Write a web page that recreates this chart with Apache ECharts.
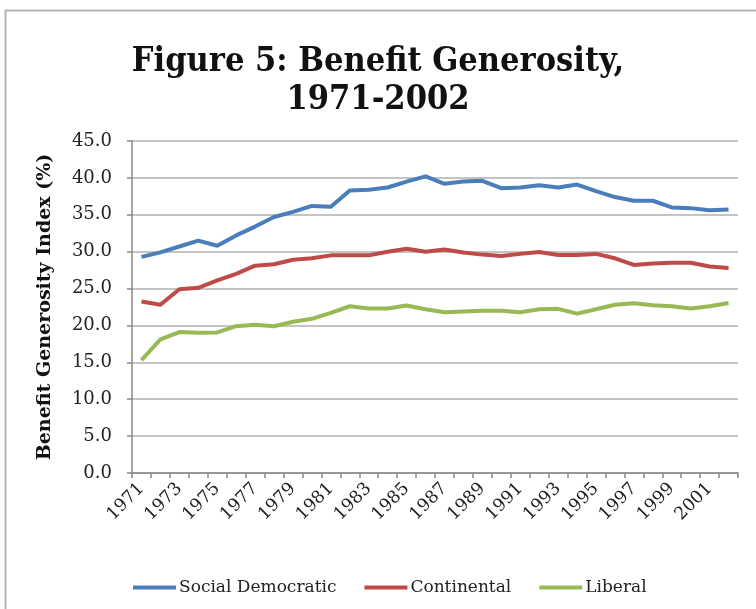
<!DOCTYPE html>
<html>
<head>
<meta charset="utf-8">
<script src="https://cdn.jsdelivr.net/npm/echarts@6/dist/echarts.min.js"></script>
<style>html,body{margin:0;padding:0;background:#fff}#c{width:756px;height:609px}</style>
</head>
<body>
<div id="c"></div>
<script>
const years = ['1971','1972','1973','1974','1975','1976','1977','1978','1979','1980','1981','1982','1983','1984','1985','1986','1987','1988','1989','1990','1991','1992','1993','1994','1995','1996','1997','1998','1999','2000','2001','2002'];
const socialDemocratic = [29.3,29.9,30.7,31.5,30.8,32.2,33.4,34.7,35.4,36.2,36.1,38.3,38.4,38.7,39.5,40.2,39.2,39.5,39.6,38.6,38.7,39.0,38.7,39.1,38.2,37.4,36.9,36.9,36.0,35.9,35.6,35.7];
const continental = [23.25,22.8,24.9,25.1,26.1,27.0,28.1,28.3,28.9,29.1,29.5,29.5,29.5,30.0,30.4,30.0,30.3,29.9,29.6,29.4,29.7,29.95,29.55,29.55,29.7,29.1,28.2,28.4,28.5,28.5,28.0,27.8];
const liberal = [15.3,18.1,19.1,19.0,19.05,19.9,20.1,19.9,20.5,20.9,21.7,22.6,22.3,22.3,22.7,22.2,21.8,21.9,22.0,22.0,21.8,22.2,22.25,21.6,22.2,22.8,23.0,22.75,22.6,22.3,22.6,23.05];
const seriesNames = ['Social Democratic','Continental','Liberal'];
const colors = ['#4A7EBB','#BE4B48','#98B954'];
const yTicks = {min: 0, max: 45, interval: 5};

const chart = echarts.init(document.getElementById('c'), null, {renderer: 'canvas'});
const serif = "'DejaVu Serif', 'Liberation Serif', serif";
const data = [socialDemocratic, continental, liberal];
chart.setOption({
  animation: false,
  backgroundColor: '#fff',
  graphic: [{
    type: 'rect', z: -1,
    shape: {x: 5.5, y: 10.5, width: 800, height: 700},
    style: {fill: 'none', stroke: '#b5b5b5', lineWidth: 2}
  }],
  title: {
    text: 'Figure 5: Benefit Generosity,\n1971-2002',
    left: 'center',
    top: 38,
    padding: [5, 5, 5, 25],
    textStyle: {fontFamily: "'DejaVu Serif Condensed', 'Liberation Serif', serif", fontWeight: 'bold', fontSize: 34, lineHeight: 38, color: '#111'}
  },
  legend: {
    data: seriesNames,
    left: 128, top: 574,
    itemWidth: 43, itemHeight: 4, itemGap: 28,
    icon: 'rect',
    textStyle: {fontFamily: serif, fontSize: 17, color: '#222', padding: [0,0,0,-2]}
  },
  grid: {left: 132, right: 18, top: 141, bottom: 136, containLabel: false},
  xAxis: {
    type: 'category',
    data: years,
    boundaryGap: true,
    axisLine: {lineStyle: {color: '#888', width: 1.5}},
    axisTick: {show: true, interval: 0, length: 5, lineStyle: {color: '#888', width: 1.5}},
    axisLabel: {interval: 1, rotate: 45, fontFamily: serif, fontSize: 17.5, color: '#222', margin: 13}
  },
  yAxis: {
    type: 'value',
    min: yTicks.min, max: yTicks.max, interval: yTicks.interval,
    name: 'Benefit Generosity Index (%)',
    nameLocation: 'middle',
    nameGap: 77,
    nameTextStyle: {fontFamily: serif, fontWeight: 'bold', fontSize: 19, color: '#111'},
    axisLine: {show: true, lineStyle: {color: '#888', width: 1.5}},
    axisTick: {show: true, length: 5, lineStyle: {color: '#888', width: 1.5}},
    axisLabel: {formatter: v => v.toFixed(1), fontFamily: serif, fontSize: 18, color: '#222', margin: 20},
    splitLine: {lineStyle: {color: '#b0b0b0', width: 1.5}}
  },
  series: seriesNames.map((n, i) => ({
    name: n, type: 'line', data: data[i], symbol: 'none', smooth: false,
    lineStyle: {width: 4, color: colors[i]}, itemStyle: {color: colors[i]}
  }))
});
</script>
</body>
</html>
